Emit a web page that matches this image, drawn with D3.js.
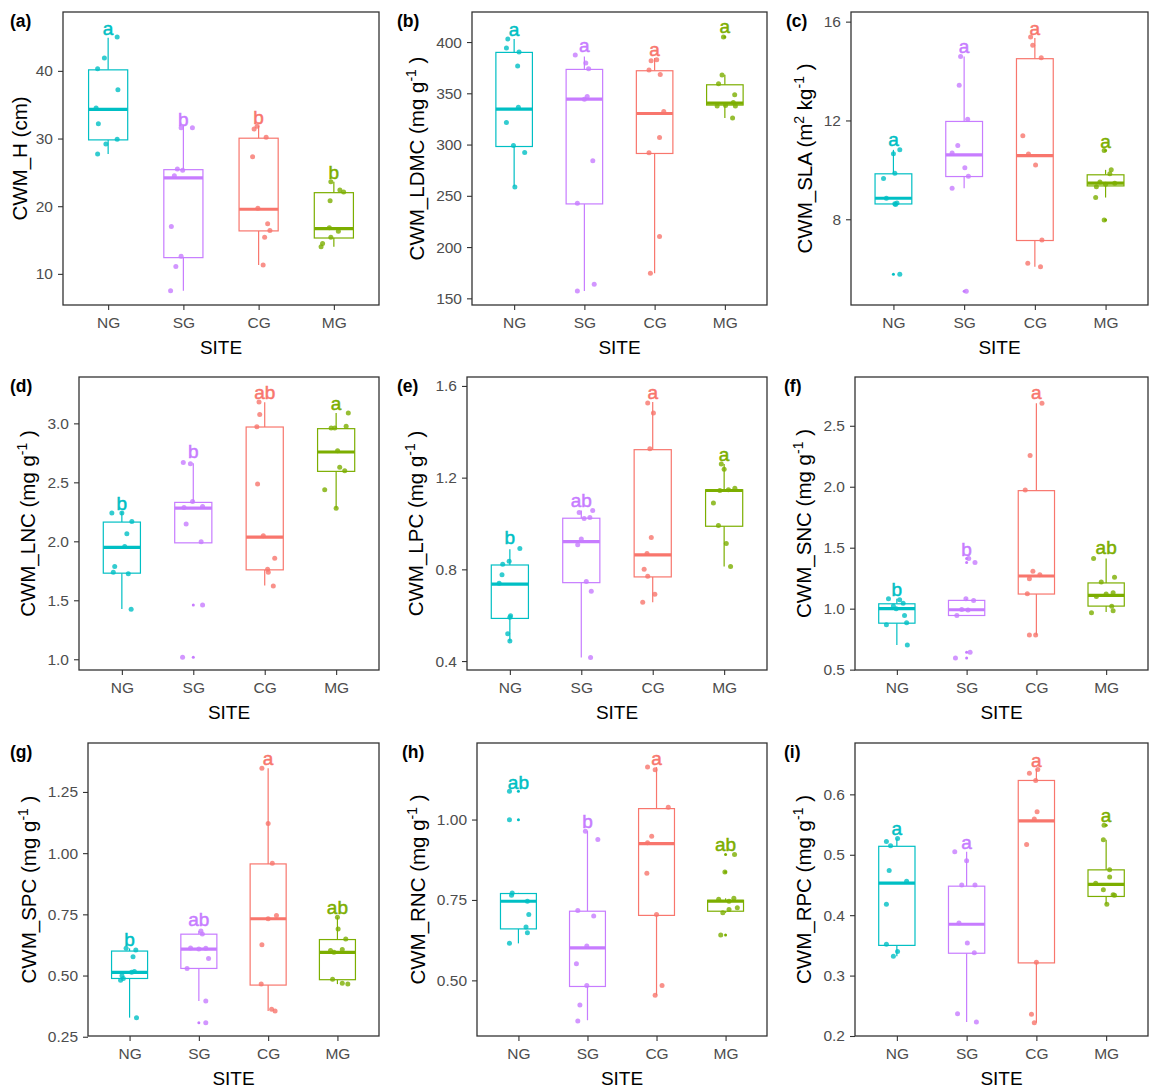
<!DOCTYPE html>
<html>
<head>
<meta charset="utf-8">
<script src="https://cdn.jsdelivr.net/npm/d3@7"></script>
<style>
  body { margin: 0; background: #fff; }
  svg { display: block; }
  text { font-family: Arial, "Liberation Sans", sans-serif; }
</style>
</head>
<body>
<div id="chart"></div>
<script>
const sites = ["NG", "SG", "CG", "MG"]
const siteColors = ["#00BFC4", "#C77CFF", "#F8766D", "#7CAE00"]

const panelTags = ["(a)", "(b)", "(c)", "(d)", "(e)", "(f)", "(g)", "(h)", "(i)"]
// ^ marks a superscript run
const yTitles = ["CWM_H (cm)", "CWM_LDMC (mg g^-1 )", "CWM_SLA (m^2 kg^-1 )",
    "CWM_LNC (mg g^-1 )", "CWM_LPC (mg g^-1 )", "CWM_SNC (mg g^-1 )",
    "CWM_SPC (mg g^-1 )", "CWM_RNC (mg g^-1 )", "CWM_RPC (mg g^-1 )"]
const yDomains = [[5.4, 48.7], [143.5, 429.3], [4.53, 16.39], [0.909, 3.393], [0.361, 1.639],
    [0.497, 2.90], [0.253, 1.450], [0.327, 1.238], [0.2, 0.685]]
const yTicks = [[10, 20, 30, 40], [150, 200, 250, 300, 350, 400], [8, 12, 16], [1.0, 1.5, 2.0, 2.5, 3.0],
    [0.4, 0.8, 1.2, 1.6], [0.5, 1.0, 1.5, 2.0, 2.5], [0.25, 0.5, 0.75, 1.0, 1.25], [0.5, 0.75, 1.0],
    [0.2, 0.3, 0.4, 0.5, 0.6]]
const yTickLabels = [["10", "20", "30", "40"], ["150", "200", "250", "300", "350", "400"], ["8", "12", "16"],
    ["1.0", "1.5", "2.0", "2.5", "3.0"], ["0.4", "0.8", "1.2", "1.6"], ["0.5", "1.0", "1.5", "2.0", "2.5"],
    ["0.25", "0.50", "0.75", "1.00", "1.25"], ["0.50", "0.75", "1.00"], ["0.2", "0.3", "0.4", "0.5", "0.6"]]

// [whisker low, q1, median, q3, whisker high] per site
const boxStats = [
    [[27.7, 29.8, 34.3, 40.15, 44.9], [7.5, 12.4, 24.2, 25.4, 31.9], [11.3, 16.35, 19.55, 30.05, 31.9], [14.0, 15.3, 16.7, 22.0, 23.6]],
    [[259.0, 298.1, 334.6, 389.9, 402.9], [157.2, 242.1, 344.3, 373.3, 386.0], [174.4, 291.3, 330.3, 372.0, 384.4], [325.8, 338.5, 340.4, 358.3, 368.1]],
    [[8.6, 8.62, 8.85, 9.84, 10.81], [9.26, 9.73, 10.61, 11.96, 14.59], [6.08, 7.14, 10.58, 14.50, 15.34], [8.88, 9.35, 9.46, 9.80, 10.0]],
    [[1.427, 1.730, 1.948, 2.163, 2.253], [1.987, 1.987, 2.281, 2.330, 2.661], [1.625, 1.758, 2.035, 2.969, 3.178], [2.281, 2.593, 2.757, 2.955, 3.088]],
    [[0.487, 0.586, 0.736, 0.819, 0.888], [0.416, 0.742, 0.921, 1.023, 1.057], [0.656, 0.767, 0.863, 1.322, 1.530], [0.812, 0.988, 1.144, 1.147, 1.259]],
    [[0.703, 0.881, 1.0, 1.040, 1.082], [0.944, 0.944, 0.991, 1.068, 1.082], [0.785, 1.120, 1.268, 1.968, 2.684], [0.972, 1.021, 1.109, 1.211, 1.411]],
    [[0.328, 0.488, 0.513, 0.600, 0.611], [0.396, 0.529, 0.608, 0.669, 0.682], [0.355, 0.461, 0.732, 0.956, 1.347], [0.465, 0.483, 0.595, 0.647, 0.738]],
    [[0.615, 0.660, 0.746, 0.770, 0.772], [0.376, 0.481, 0.601, 0.715, 0.964], [0.454, 0.702, 0.925, 1.034, 1.163], [0.710, 0.715, 0.746, 0.749, 0.755]],
    [[0.332, 0.350, 0.453, 0.514, 0.527], [0.223, 0.337, 0.385, 0.448, 0.505], [0.222, 0.321, 0.556, 0.623, 0.642], [0.418, 0.431, 0.451, 0.475, 0.525]]
]

const letters = [["a", "b", "b", "b"], ["a", "a", "a", "a"], ["a", "a", "a", "a"], ["b", "b", "ab", "a"],
    ["b", "ab", "a", "a"], ["b", "b", "a", "ab"], ["b", "ab", "a", "ab"], ["ab", "b", "a", "ab"], ["a", "a", "a", "a"]]
const letterY = [[45.3, 31.9, 32.2, 24.0], [406.2, 389.9, 386, 408.8], [10.95, 14.73, 15.47, 10.88],
    [2.262, 2.706, 3.207, 3.116], [0.910, 1.074, 1.543, 1.274], [1.101, 1.433, 2.719, 1.447],
    [0.622, 0.701, 1.361, 0.752], [1.096, 0.974, 1.171, 0.902], [0.533, 0.51, 0.646, 0.555]]

// plot points: [jitter as fraction of category step, value]
const ptsH = [
    [[0.12, 45.0], [-0.05, 41.9], [-0.14, 40.3], [0.13, 37.2], [-0.16, 34.5], [-0.13, 32.2], [0.12, 29.9], [-0.03, 29.2], [-0.14, 27.7]],
    [[-0.03, 31.6], [0.12, 31.6], [-0.08, 25.5], [-0.01, 25.3], [-0.12, 24.5], [-0.16, 17.0], [-0.03, 12.6], [-0.10, 11.1], [-0.17, 7.5]],
    [[-0.02, 31.8], [-0.06, 31.4], [0.10, 30.2], [-0.08, 27.3], [-0.01, 19.7], [0.12, 17.4], [0.15, 16.4], [0.08, 15.4], [0.06, 11.3]],
    [[-0.04, 23.6], [0.08, 22.4], [0.13, 22.1], [-0.05, 20.8], [-0.06, 16.8], [0.06, 16.3], [-0.04, 15.4], [-0.15, 14.5], [-0.17, 14.0]]
]
const ptsLDMC = [
    [[-0.09, 402.9], [-0.11, 394.1], [0.07, 390.2], [0.05, 376.6], [0.06, 336.5], [-0.11, 321.5], [-0.01, 299.1], [0.15, 292.3], [0.01, 258.7]],
    [[-0.13, 387.3], [0.02, 379.5], [0.06, 374.0], [0.04, 346.9], [0, 344.3], [0.12, 284.1], [-0.10, 242.8], [0.14, 163.7], [-0.10, 157.2]],
    [[-0.05, 381.8], [0.03, 382.7], [-0.08, 372.7], [0.08, 368.4], [0.13, 332.3], [0.07, 306.9], [-0.08, 292.0], [0.07, 210.2], [-0.06, 174.4]],
    [[-0.02, 404.9], [-0.04, 367.8], [-0.09, 359.3], [0.14, 348.6], [0.12, 341.1], [0.01, 338.0], [-0.11, 337.5], [0.15, 337.5], [0.11, 325.8]]
]
const ptsSLA = [
    [[0.09, 10.81], [0, 10.65], [0.02, 9.86], [-0.14, 9.65], [-0.10, 8.85], [0.05, 8.66], [0.02, 8.63], [0.03, 8.6], [0.09, 5.77]],
    [[-0.05, 14.59], [-0.07, 13.43], [0.05, 12.05], [-0.09, 10.99], [-0.17, 10.68], [0.01, 10.09], [0.06, 9.74], [-0.17, 9.26], [0.03, 5.09]],
    [[-0.06, 15.38], [-0.03, 15.04], [0.09, 14.54], [-0.17, 11.38], [-0.09, 10.64], [0.01, 10.2], [0.10, 7.16], [-0.10, 6.22], [0.08, 6.08]],
    [[-0.02, 10.78], [0.08, 10.0], [0.06, 9.84], [-0.08, 9.51], [0.13, 9.46], [0, 9.42], [-0.13, 9.32], [-0.14, 8.88], [-0.02, 7.97]]
]
const ptsLNC = [
    [[-0.14, 2.239], [0, 2.239], [0.14, 2.168], [0.07, 2.064], [0.04, 1.956], [-0.10, 1.786], [-0.12, 1.738], [0.09, 1.724], [0.13, 1.424]],
    [[-0.14, 2.669], [-0.04, 2.658], [-0.01, 2.338], [0.13, 2.296], [-0.13, 2.287], [-0.10, 2.146], [0.11, 1.996], [0.13, 1.461], [-0.15, 1.018]],
    [[-0.08, 3.181], [-0.07, 3.076], [-0.11, 2.972], [-0.10, 2.485], [-0.02, 2.047], [0.14, 1.857], [0.04, 1.764], [0.05, 1.738], [0.12, 1.622]],
    [[0.17, 3.088], [-0.07, 2.960], [-0.02, 2.960], [0.14, 2.975], [0.02, 2.768], [0.05, 2.627], [0.12, 2.598], [-0.16, 2.437], [0, 2.281]]
]
const ptsLPC = [
    [[0.14, 0.891], [-0.01, 0.835], [-0.10, 0.822], [-0.11, 0.776], [-0.15, 0.739], [0.01, 0.598], [0, 0.591], [-0.03, 0.519], [0, 0.487]],
    [[-0.03, 1.048], [0.16, 1.057], [0.04, 1.022], [0.12, 1.026], [0, 0.932], [-0.05, 0.907], [0.07, 0.747], [0.14, 0.704], [0.13, 0.416]],
    [[-0.07, 1.526], [0.01, 1.482], [-0.04, 1.326], [-0.02, 0.939], [-0.08, 0.869], [-0.12, 0.800], [-0.07, 0.770], [0.03, 0.691], [-0.14, 0.656]],
    [[-0.04, 1.259], [0, 1.237], [0.15, 1.154], [0.06, 1.147], [-0.06, 1.144], [-0.15, 1.089], [-0.08, 0.991], [0.03, 0.913], [0.09, 0.812]]
]
const ptsSNC = [
    [[-0.12, 1.082], [0.04, 1.073], [0.09, 1.045], [-0.05, 1.021], [-0.01, 1.0], [0.11, 0.944], [0.14, 0.885], [-0.15, 0.868], [0.15, 0.703]],
    [[-0.01, 1.082], [0.10, 1.068], [0.03, 1.411], [0.12, 1.378], [-0.07, 0.994], [0.02, 0.99], [-0.14, 0.944], [0.05, 0.643], [-0.16, 0.596]],
    [[0.08, 2.684], [-0.09, 2.256], [-0.16, 1.973], [-0.05, 1.307], [0.05, 1.279], [-0.10, 1.246], [-0.13, 1.123], [-0.10, 0.785], [-0.01, 0.785]],
    [[-0.21, 0.966], [0.10, 0.983], [0.08, 1.02], [-0.14, 1.10], [0, 1.12], [0.10, 1.13], [-0.07, 1.219], [0.12, 1.257], [-0.18, 1.411]]
]
const ptsSPC = [
    [[-0.05, 0.611], [0.09, 0.604], [0.05, 0.577], [0.07, 0.517], [0.03, 0.513], [-0.11, 0.499], [-0.09, 0.488], [-0.13, 0.481], [0.10, 0.328]],
    [[0.03, 0.682], [0.05, 0.670], [-0.12, 0.612], [0.10, 0.611], [0, 0.608], [0.14, 0.570], [-0.17, 0.529], [0.10, 0.396], [0.10, 0.307]],
    [[-0.09, 1.347], [0, 1.121], [0.06, 0.959], [0.12, 0.745], [0, 0.732], [-0.09, 0.626], [-0.10, 0.465], [0.05, 0.362], [0.10, 0.355]],
    [[0, 0.738], [0.01, 0.690], [0.12, 0.649], [-0.10, 0.602], [0.07, 0.606], [-0.05, 0.595], [-0.07, 0.485], [0.07, 0.469], [0.15, 0.465]]
]
const ptsRNC = [
    [[-0.13, 1.088], [-0.13, 0.999], [-0.09, 0.772], [-0.10, 0.765], [0.13, 0.746], [0.15, 0.705], [0.11, 0.666], [0.13, 0.648], [-0.13, 0.615]],
    [[-0.03, 0.964], [0.15, 0.938], [-0.14, 0.717], [0.09, 0.700], [-0.01, 0.607], [-0.16, 0.552], [-0.01, 0.484], [-0.11, 0.423], [-0.14, 0.374]],
    [[-0.13, 1.163], [-0.02, 1.155], [0.17, 1.038], [-0.07, 0.948], [-0.13, 0.928], [-0.14, 0.833], [0, 0.705], [0.08, 0.484], [-0.02, 0.454]],
    [[0.13, 0.891], [-0.01, 0.837], [-0.10, 0.752], [0.12, 0.755], [0.05, 0.746], [0.17, 0.726], [0.05, 0.720], [-0.04, 0.710], [-0.07, 0.641]]
]
const ptsRPC = [
    [[0.01, 0.527], [-0.15, 0.522], [-0.09, 0.515], [-0.11, 0.474], [0.14, 0.456], [-0.15, 0.418], [-0.15, 0.352], [0.01, 0.340], [-0.05, 0.332]],
    [[-0.17, 0.505], [0, 0.490], [-0.07, 0.450], [0.12, 0.450], [-0.11, 0.387], [0.01, 0.354], [0.11, 0.338], [-0.13, 0.237], [0.14, 0.223]],
    [[-0.10, 0.635], [0.02, 0.641], [-0.01, 0.623], [0.01, 0.571], [-0.03, 0.559], [-0.14, 0.517], [0, 0.322], [-0.07, 0.236], [-0.03, 0.222]],
    [[-0.03, 0.549], [-0.04, 0.525], [0.05, 0.475], [0.05, 0.463], [-0.15, 0.453], [-0.04, 0.442], [0.10, 0.434], [0.12, 0.433], [0.01, 0.418]]
]
const points = [ptsH, ptsLDMC, ptsSLA, ptsLNC, ptsLPC, ptsSNC, ptsSPC, ptsRNC, ptsRPC]

// panel frames (plot area) and tag positions
const frames = [
    { x0: 63, x1: 379, y0: 12, y1: 305, tx: 10, ty: 27 },
    { x0: 472, x1: 767, y0: 12, y1: 305, tx: 397, ty: 27 },
    { x0: 851, x1: 1148, y0: 12, y1: 305, tx: 786, ty: 27 },
    { x0: 79, x1: 379, y0: 377, y1: 670, tx: 10, ty: 392 },
    { x0: 467, x1: 767, y0: 377, y1: 670, tx: 397, ty: 392 },
    { x0: 855, x1: 1148, y0: 377, y1: 670, tx: 784, ty: 392 },
    { x0: 88, x1: 379, y0: 743, y1: 1036, tx: 10, ty: 758 },
    { x0: 477, x1: 767, y0: 743, y1: 1036, tx: 402, ty: 758 },
    { x0: 855, x1: 1148, y0: 743, y1: 1036, tx: 784, ty: 758 }
]

const width = 1151, height = 1088
const svg = d3.select("#chart").append("svg")
    .attr("width", width)
    .attr("height", height)

function drawPanel(i) {
    const f = frames[i]
    const g = svg.append("g")
    const x = d3.scalePoint().domain(sites).range([f.x0, f.x1]).padding(0.6)
    const step = x.step()
    const y = d3.scaleLinear().domain(yDomains[i]).range([f.y1, f.y0])
    const span = yDomains[i][1] - yDomains[i][0]

    // axes
    const yAxis = g.append("g")
        .attr("transform", `translate(${f.x0},0)`)
        .call(d3.axisLeft(y).tickValues(yTicks[i]).tickFormat((d, k) => yTickLabels[i][k]).tickSize(5).tickPadding(5))
    const xAxis = g.append("g")
        .attr("transform", `translate(0,${f.y1})`)
        .call(d3.axisBottom(x).tickSize(5).tickPadding(7))
    for (const ax of [yAxis, xAxis]) {
        ax.select(".domain").remove()
        ax.selectAll(".tick line").attr("stroke", "#333").attr("stroke-width", 1.1)
        ax.selectAll(".tick text").attr("fill", "#4D4D4D").attr("font-size", "15.5px")
            .attr("font-family", "Arial, 'Liberation Sans', sans-serif")
    }

    // boxes, whiskers, outliers
    sites.forEach((s, k) => {
        const [lo, q1, med, q3, hi] = boxStats[i][k]
        const cx = x(s), w = step * 0.52, col = siteColors[k]
        const bg = g.append("g").attr("stroke", col).attr("fill", "none")
        bg.append("line").attr("x1", cx).attr("x2", cx).attr("y1", y(q3)).attr("y2", y(hi)).attr("stroke-width", 1.2)
        bg.append("line").attr("x1", cx).attr("x2", cx).attr("y1", y(q1)).attr("y2", y(lo)).attr("stroke-width", 1.2)
        bg.append("rect")
            .attr("x", cx - w / 2).attr("width", w)
            .attr("y", y(q3)).attr("height", y(q1) - y(q3))
            .attr("fill", "#fff").attr("stroke-width", 1.2)
        bg.append("line").attr("x1", cx - w / 2).attr("x2", cx + w / 2)
            .attr("y1", y(med)).attr("y2", y(med)).attr("stroke-width", 3.2)
        const outl = points[i][k].filter(p => p[1] > hi + span * 0.01 || p[1] < lo - span * 0.01)
        g.selectAll(null).data(outl).join("circle")
            .attr("cx", cx).attr("cy", d => y(d[1])).attr("r", 1.5)
            .attr("fill", col)
    })

    // jittered points
    sites.forEach((s, k) => {
        g.selectAll(null).data(points[i][k]).join("circle")
            .attr("cx", d => x(s) + d[0] * step)
            .attr("cy", d => y(d[1]))
            .attr("r", 2.5)
            .attr("fill", siteColors[k])
            .attr("fill-opacity", 0.8)
    })

    // significance letters
    sites.forEach((s, k) => {
        g.append("text")
            .attr("x", x(s)).attr("y", y(letterY[i][k]))
            .attr("text-anchor", "middle")
            .attr("font-size", "19px")
            .attr("fill", siteColors[k])
            .attr("stroke", siteColors[k]).attr("stroke-width", 0.5)
            .text(letters[i][k])
    })

    // panel border
    g.append("rect")
        .attr("x", f.x0).attr("y", f.y0)
        .attr("width", f.x1 - f.x0).attr("height", f.y1 - f.y0)
        .attr("fill", "none").attr("stroke", "#333").attr("stroke-width", 1.3)

    // titles
    const parts = yTitles[i].split(/\^(\S+)/)
    const yb = yAxis.node().getBBox()
    const gap = parts.length > 1 ? 12 : 9
    const tx = f.x0 + yb.x - gap, ty = (f.y0 + f.y1) / 2
    const title = g.append("text")
        .attr("transform", `translate(${tx},${ty}) rotate(-90)`)
        .attr("text-anchor", "middle")
        .attr("font-size", "20.5px")
        .attr("fill", "#000")
    parts.forEach((p, j) => {
        if (j % 2 === 1) {
            title.append("tspan").attr("font-size", "14px").attr("dy", -8).text(p)
        } else {
            title.append("tspan").attr("dy", j > 0 ? 8 : 0).text(p)
        }
    })

    g.append("text")
        .attr("x", (f.x0 + f.x1) / 2).attr("y", f.y1 + 49)
        .attr("text-anchor", "middle")
        .attr("font-size", "19px")
        .attr("fill", "#000")
        .text("SITE")

    g.append("text")
        .attr("x", f.tx).attr("y", f.ty)
        .attr("font-size", "17.5px")
        .attr("font-weight", "bold")
        .attr("fill", "#000")
        .text(panelTags[i])
}

for (let i = 0; i < 9; i++) drawPanel(i)
</script>
</body>
</html>
